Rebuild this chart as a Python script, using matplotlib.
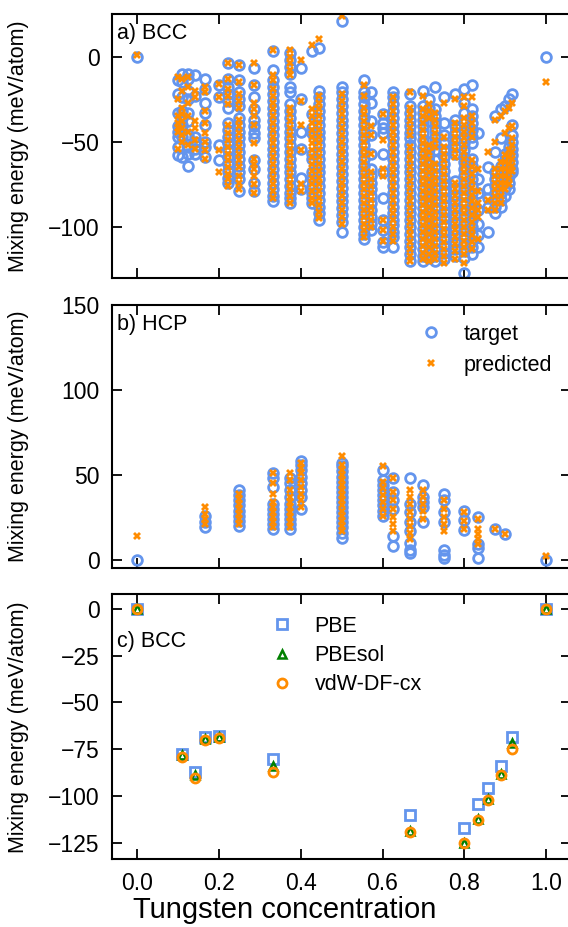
import numpy as np
import matplotlib.pyplot as plt

plt.rcParams['font.family'] = ['Liberation Sans', 'DejaVu Sans']

blue = '#6495ed'
orange = '#ff8c00'
green = '#008000'

# a) BCC: tungsten concentration and mixing energies (meV/atom) per composition
bcc_conc = [0.0, 1/10, 1/9, 1/8, 1/7, 1/6, 1/5, 2/9, 1/4, 2/7, 1/3, 3/8, 2/5, 3/7, 4/9,
            1/2, 5/9, 4/7, 3/5, 5/8, 2/3, 7/10, 5/7, 8/11, 3/4, 7/9, 4/5, 9/11, 5/6,
            6/7, 7/8, 8/9, 9/10, 10/11, 11/12, 1.0]
bcc_target = [
    [0],
    [-14, -22, -33, -41, -44, -47, -53, -58],
    [-10, -15, -24, -32, -36, -40, -43, -47, -59],
    [-10, -13, -20, -25, -33, -38, -46, -53, -57, -64],
    [-11, -23, -47, -50, -54, -57],
    [-13, -19, -27, -33, -40, -50, -53, -59],
    [-17, -24, -52, -61],
    [-4, -13, -18, -22, -26, -30, -39, -43, -47, -51, -55, -59, -63, -67, -71, -74],
    [-5, -14, -21, -25, -29, -36, -40, -44, -48, -52, -56, -60, -64, -68, -72, -79],
    [-7, -17, -24, -31, -37, -41, -45, -48, -61, -66, -74, -79],
    [3, -8, -14, -18, -22, -26, -30, -34, -38, -42, -46, -50, -54, -58, -62, -66, -70, -74, -78, -82, -85],
    [2, -2, -6, -10, -18, -21, -28, -32, -36, -40, -44, -48, -52, -56, -60, -64, -68, -72, -76, -80, -83, -86],
    [-7, -25, -44, -54, -71, -78],
    [3, -34, -42, -45, -57, -60, -68, -72, -76, -80, -83, -86],
    [5, -20, -24, -28, -32, -36, -40, -44, -48, -52, -56, -60, -64, -68, -72, -76, -80, -84, -88, -92, -96],
    [21, -18, -21, -25, -29, -33, -37, -41, -45, -49, -53, -57, -61, -65, -69, -73, -77, -81, -85, -89, -93, -97, -103],
    [-14, -21, -24, -28, -32, -36, -40, -44, -48, -52, -56, -60, -64, -68, -72, -76, -80, -84, -88, -92, -96, -100, -104, -107],
    [-21, -27, -38, -46, -57, -66, -70, -74, -78, -82, -86, -90, -94, -98, -102],
    [-34, -39, -42, -45, -57, -68, -83, -96, -102, -109, -112],
    [-21, -24, -28, -32, -36, -40, -44, -48, -52, -56, -60, -64, -68, -72, -76, -80, -84, -88, -92, -96, -99, -103, -106, -112],
    [-22, -29, -33, -37, -41, -45, -48, -52, -56, -60, -64, -68, -72, -76, -80, -84, -88, -92, -96, -100, -104, -108, -112, -116, -120],
    [-20, -29, -33, -37, -41, -45, -49, -53, -57, -61, -65, -69, -73, -77, -81, -85, -89, -93, -97, -101, -105, -109, -113, -117, -120],
    [-25, -30, -34, -38, -50, -54, -58, -62, -66, -70, -74, -78, -82, -86, -90, -94, -98, -102, -106, -110, -114, -118],
    [-18, -31, -35, -39, -43, -47, -51, -55, -61, -65, -69, -73, -77, -81, -85, -89, -93, -97, -101, -105, -109, -113, -117, -120],
    [-24, -39, -46, -51, -55, -59, -63, -67, -71, -75, -79, -83, -87, -91, -95, -99, -103, -107, -111, -115, -119],
    [-22, -37, -41, -45, -49, -53, -57, -73, -77, -81, -85, -89, -93, -97, -101, -105, -109, -113, -117],
    [-19, -27, -33, -39, -43, -47, -51, -55, -59, -62, -66, -70, -74, -78, -82, -86, -90, -94, -98, -102, -106, -110, -114, -118, -127],
    [-17, -31, -35, -39, -43, -47, -51, -60, -64, -68, -72, -76, -80, -84, -88, -92, -96, -100, -104, -108, -112, -116],
    [-45, -72, -80, -90, -98, -105, -112],
    [-65, -78, -83, -88, -103],
    [-35, -56, -68, -72, -76, -80, -84, -88, -92],
    [-31, -48, -64, -68, -72, -76, -80, -84, -88],
    [-29, -57, -61, -65, -69, -73, -77, -82],
    [-25, -53, -57, -61, -65, -70, -74, -78],
    [-22, -40, -46, -50, -54, -58, -62, -66, -68],
    [0],
]
bcc_pred = [
    [1],
    [-12, -25, -35, -39, -42, -44, -54],
    [-13, -20, -30, -34, -38, -42, -46, -50],
    [-12, -18, -27, -35, -44, -52],
    [-20, -24, -38, -42, -49, -54],
    [-18, -21, -32, -39, -45, -50, -55, -60],
    [-16, -24, -55, -68],
    [-4, -13, -19, -23, -28, -40, -45, -49, -53, -57, -61, -65, -69, -72, -76],
    [-5, -15, -22, -26, -30, -37, -41, -45, -49, -53, -57, -61, -65, -70, -74, -78],
    [-4, -17, -27, -31, -35, -40, -51, -60, -63, -66, -70, -75, -80],
    [4, -11, -14, -19, -23, -27, -31, -35, -39, -43, -47, -51, -55, -59, -63, -67, -71, -75, -79, -83],
    [4, 0, -4, -8, -11, -30, -34, -38, -42, -46, -50, -54, -58, -62, -66, -70, -74, -78, -82, -86],
    [-2, -26, -40, -55, -75, -79],
    [7, -31, -35, -39, -43, -47, -51, -55, -59, -63, -67, -71, -75, -79, -83, -86],
    [10, -23, -27, -31, -35, -39, -43, -47, -51, -55, -59, -63, -67, -71, -75, -79, -83, -87, -91, -95],
    [24, -22, -26, -30, -34, -38, -42, -46, -50, -54, -58, -62, -66, -70, -74, -78, -82, -86, -90, -94, -98],
    [-17, -23, -30, -34, -38, -42, -46, -50, -54, -58, -62, -66, -70, -74, -78, -82, -86, -90, -94, -98, -102, -106],
    [-41, -46, -57, -68, -72, -76, -80, -84, -88, -92, -96, -100],
    [-34, -49, -66, -70, -96, -102, -108],
    [-24, -28, -32, -36, -40, -44, -48, -52, -56, -60, -64, -68, -72, -76, -80, -84, -88, -92, -96, -100, -104, -108],
    [-21, -30, -34, -38, -42, -46, -53, -57, -61, -65, -69, -73, -77, -81, -85, -89, -93, -97, -101, -105, -109, -113, -117, -120],
    [-23, -31, -35, -39, -43, -47, -51, -55, -59, -63, -67, -71, -75, -79, -83, -87, -91, -95, -99, -103, -107, -111, -115, -119],
    [-28, -32, -36, -52, -56, -60, -64, -68, -72, -76, -80, -84, -88, -92, -96, -100, -104, -108, -112, -116, -120],
    [-33, -37, -41, -45, -49, -53, -63, -67, -71, -75, -79, -83, -87, -91, -95, -99, -103, -107, -111, -115, -119],
    [-27, -47, -53, -57, -61, -65, -69, -73, -77, -81, -85, -89, -93, -97, -101, -105, -109, -113, -117, -121],
    [-25, -39, -43, -47, -51, -55, -59, -74, -78, -82, -86, -90, -94, -98, -102, -106, -110, -114, -119],
    [-24, -29, -36, -40, -44, -48, -52, -56, -60, -64, -68, -72, -76, -80, -84, -88, -92, -96, -100, -104, -108, -112, -116, -121],
    [-24, -35, -39, -43, -47, -61, -65, -69, -73, -77, -81, -85, -89, -93, -97, -101, -105, -109, -113],
    [-66, -79, -86, -90, -94, -107],
    [-56, -84, -90],
    [-37, -50, -66, -70, -74, -78, -82, -86, -90],
    [-35, -62, -66, -70, -74, -78, -82, -86],
    [-32, -45, -58, -62, -66, -70, -74, -78],
    [-30, -42, -55, -59, -63, -67, -71, -75],
    [-27, -41, -48, -52, -56, -60, -64, -67],
    [-15],
]

# b) HCP
hcp_conc = [0.0, 1/6, 1/4, 1/3, 3/8, 2/5, 1/2, 3/5, 5/8, 2/3, 7/10, 3/4, 4/5, 5/6, 7/8, 9/10, 1.0]
hcp_target = [
    [0],
    [19, 22.5, 26],
    [20, 23, 26, 29, 32, 35, 38, 41],
    [18, 21, 24, 27, 30, 33, 43, 48, 51],
    [18, 21, 24, 27, 30, 33, 37, 41, 45, 48],
    [30, 37, 41, 45, 49, 53, 56, 58],
    [13, 16, 19, 22, 25, 28, 31, 34, 37, 40, 43, 46, 49, 52, 55, 57],
    [26, 29, 32, 35, 38, 41, 44, 47, 53],
    [8, 14, 30, 35, 40, 48],
    [4, 6, 10, 17, 22, 28, 33, 48],
    [22, 31, 34, 37, 44],
    [1, 3, 6, 22, 28, 35, 39],
    [17.6, 23.5, 29],
    [1, 7, 9, 25],
    [18],
    [15],
    [0],
]
hcp_pred = [
    [14],
    [21, 24, 27, 31],
    [21, 24, 27, 30, 33, 36, 39],
    [19, 22, 25, 28, 31, 34, 39, 45, 51],
    [19, 22, 25, 28, 31, 34, 37, 41, 47, 51],
    [31, 35, 39, 43, 47, 51, 54, 57],
    [17, 20, 23, 26, 29, 32, 35, 38, 41, 44, 47, 50, 53, 56, 61],
    [26, 30, 34, 38, 42, 46, 55],
    [17, 21, 25, 30, 35, 40, 48],
    [12, 16, 20, 24, 28, 33, 37, 41],
    [24, 29, 33, 37, 41],
    [17, 21, 25, 30, 35],
    [18, 23, 28],
    [9, 12, 15, 18, 24],
    [18],
    [15],
    [2],
]

# c) BCC, three functionals
dft_conc = [0.0, 1/9, 1/7, 1/6, 1/5, 1/3, 2/3, 4/5, 5/6, 6/7, 8/9, 11/12, 1.0]
pbe = [0, -77.5, -87, -68.5, -68, -80, -110.5, -117, -104.5, -96, -84, -68.5, 0]
pbesol = [0, -78, -89, -69.5, -68.5, -84, -119, -125, -112.5, -101.5, -88.5, -71.5, 0]
vdw_cx = [0, -79, -90.5, -70, -69, -87, -119.5, -125.5, -113, -102, -89, -75, 0]


def flatten(conc, groups):
    xs, ys = [], []
    for c, g in zip(conc, groups):
        xs += [c] * len(g)
        ys += g
    return np.array(xs), np.array(ys)


def style(ax, ylim, yticks, show_x):
    ax.set_xlim(-0.061, 1.06)
    ax.set_ylim(*ylim)
    ax.set_yticks(yticks)
    ax.set_xticks([0, 0.2, 0.4, 0.6, 0.8, 1.0])
    ax.tick_params(direction='in', top=True, right=True, length=7, width=1.3,
                   labelsize=16.5, pad=9, labelbottom=show_x)
    for s in ax.spines.values():
        s.set_linewidth(1.5)
    ax.set_ylabel('Mixing energy (meV/atom)', fontsize=15.5)
    ax.yaxis.set_label_coords(-0.18, 0.5)


fig = plt.figure(figsize=(5.68, 9.27), dpi=100)
left, width = 0.197, 0.808
ax1 = fig.add_axes([left, 0.700, width, 0.285])
ax2 = fig.add_axes([left, 0.387, width, 0.284])
ax3 = fig.add_axes([left, 0.073, width, 0.286])

# panel a
x, y = flatten(bcc_conc, bcc_target)
ax1.plot(x, y, 'o', ms=7, mfc='none', mec=blue, mew=2)
x, y = flatten(bcc_conc, bcc_pred)
ax1.plot(x, y, 'X', ms=5.2, color=orange, mew=0)
style(ax1, (-130, 25), [-100, -50, 0], False)
ax1.text(0.012, 0.965, 'a) BCC', transform=ax1.transAxes, fontsize=15.5, va='top')

# panel b
x, y = flatten(hcp_conc, hcp_target)
ax2.plot(x, y, 'o', ms=7, mfc='none', mec=blue, mew=2, label='target')
x, y = flatten(hcp_conc, hcp_pred)
ax2.plot(x, y, 'X', ms=5.2, color=orange, mew=0, label='predicted')
style(ax2, (-5, 150), [0, 50, 100, 150], False)
ax2.text(0.012, 0.965, 'b) HCP', transform=ax2.transAxes, fontsize=15.5, va='top')
ax2.legend(loc='upper left', bbox_to_anchor=(0.64, 0.985), frameon=False, fontsize=15.5,
           handlelength=1.0, handletextpad=1.0, labelspacing=0.45, borderpad=0.2)

# panel c
ax3.plot(dft_conc, pbe, 's', ms=7, mfc='none', mec=blue, mew=2, label='PBE')
ax3.plot(dft_conc, pbesol, '^', ms=5.5, mfc='none', mec=green, mew=1.8, label='PBEsol')
ax3.plot(dft_conc, vdw_cx, 'o', ms=6.5, mfc='none', mec=orange, mew=2, label='vdW-DF-cx')
style(ax3, (-134, 8), [-125, -100, -75, -50, -25, 0], True)
ax3.set_xticklabels(['0.0', '0.2', '0.4', '0.6', '0.8', '1.0'])
ax3.text(0.012, 0.86, 'c) BCC', transform=ax3.transAxes, fontsize=15.5, va='top')
ax3.legend(loc='upper left', bbox_to_anchor=(0.315, 0.975), frameon=False, fontsize=15.5,
           handlelength=1.0, handletextpad=1.0, labelspacing=0.38, borderpad=0.2)

fig.text(0.502, 0.003, 'Tungsten concentration', ha='center', va='bottom', fontsize=21)

fig.savefig('out.png', dpi=100)
